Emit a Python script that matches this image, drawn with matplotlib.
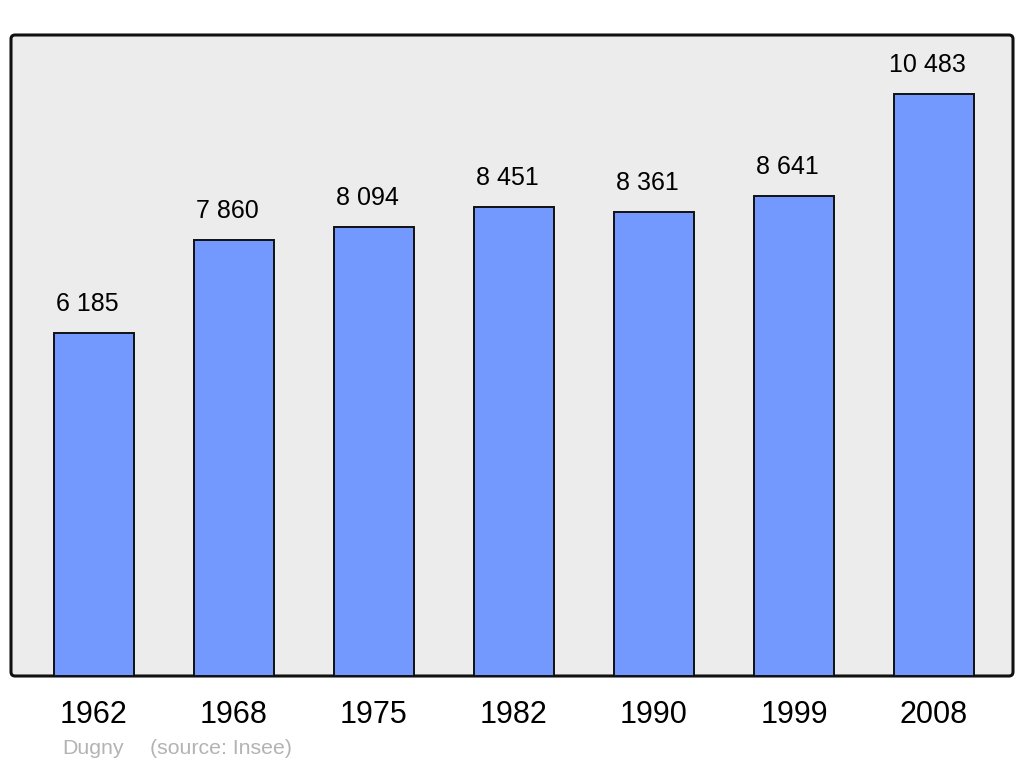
import matplotlib.pyplot as plt
from matplotlib.patches import FancyBboxPatch

plt.rcParams['font.family'] = ['Liberation Sans', 'DejaVu Sans']

# Data
years = ['1962', '1968', '1975', '1982', '1990', '1999', '2008']
population = [6185, 7860, 8094, 8451, 8361, 8641, 10483]

W, H = 1024, 765
fig = plt.figure(figsize=(W / 100, H / 100), dpi=100)
ax = fig.add_axes([11 / W, (H - 676) / H, 1002 / W, 641 / H], zorder=1)
ax.set_facecolor('none')

# Rounded frame behind the bars
frame = FancyBboxPatch((11 / W, (H - 676) / H), 1002 / W, 641 / H,
                       boxstyle='round,pad=0,rounding_size=0.004',
                       mutation_aspect=W / H, transform=fig.transFigure,
                       facecolor='#ececec', edgecolor='#111111', linewidth=2.2,
                       zorder=-1)
fig.patches.append(frame)

x = list(range(len(years)))
ax.bar(x, population, width=80 / 140, color='#7399ff', edgecolor='#111111',
       linewidth=1.4, zorder=2)

# value labels above the bars
for xi, v in zip(x, population):
    label = f"{v:,}".replace(',', ' ')
    ax.annotate(label, (xi, v), xytext=(-7, 22), textcoords='offset pixels',
                ha='center', va='baseline', fontsize=18, color='black')

ax.set_xlim(-83 / 140, 6 + 79 / 140)
ax.set_ylim(0, 641 / (582 / 10483))
ax.set_xticks(x)
ax.set_xticklabels(years, fontsize=22)
ax.tick_params(axis='x', length=0, pad=17)
ax.set_yticks([])
for s in ax.spines.values():
    s.set_visible(False)

fig.text(62 / W, (H - 754) / H, 'Dugny', fontsize=15.3, color='#b3b3b3',
         va='baseline')
fig.text(150 / W, (H - 754) / H, '(source: Insee)', fontsize=15.3,
         color='#b3b3b3', va='baseline')

fig.savefig('out.png', dpi=100)
